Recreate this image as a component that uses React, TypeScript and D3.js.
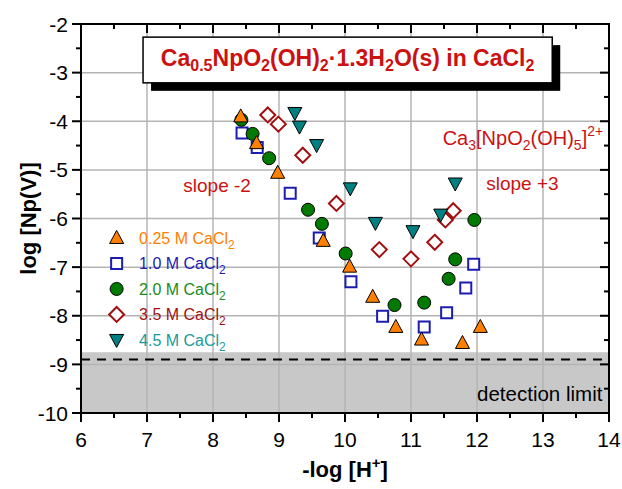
import React from 'react';
import * as d3 from 'd3';

// -log[H+] vs log[Np(V)]
const c025 = [[8.42, -3.9], [8.66, -4.45], [8.98, -5.06], [9.67, -6.46], [10.07, -6.99], [10.42, -7.61], [10.77, -8.23], [11.16, -8.49], [11.78, -8.56], [12.05, -8.23]];
const c10 = [[8.44, -4.24], [8.67, -4.54], [9.17, -5.48], [9.61, -6.4], [10.09, -7.3], [10.57, -8.01], [11.2, -8.23], [11.54, -7.94], [11.83, -7.43], [11.95, -6.94]];
const c20 = [[8.43, -3.97], [8.6, -4.26], [8.85, -4.76], [9.44, -5.82], [9.65, -6.11], [10.01, -6.72], [10.75, -7.78], [11.2, -7.73], [11.57, -7.24], [11.67, -6.84], [11.96, -6.03]];
const c35 = [[8.83, -3.87], [8.99, -4.06], [9.36, -4.7], [9.87, -5.69], [10.52, -6.64], [11.0, -6.83], [11.36, -6.49], [11.52, -6.03], [11.64, -5.84]];
const c45 = [[9.24, -3.83], [9.31, -4.11], [9.57, -4.49], [10.08, -5.38], [10.46, -6.09], [11.03, -6.26], [11.45, -5.92], [11.67, -5.28]];

const xTicks = [6, 7, 8, 9, 10, 11, 12, 13, 14];
const yTicks = [-2, -3, -4, -5, -6, -7, -8, -9, -10];
const detectionTop = -8.75;
const detectionLine = -8.9;

const FONT = 'Arial, "Liberation Sans", Helvetica, sans-serif';

const shapes: Record<string, string> = {
  triUp: 'M0,-7.5L7,5.5L-7,5.5Z',
  triDown: 'M-7,-5.5L7,-5.5L0,7.5Z',
  square: 'M-5.5,-5.5H5.5V5.5H-5.5Z',
  diamond: 'M0,-7.5L7.5,0L0,7.5L-7.5,0Z',
  circle: d3.arc()({ innerRadius: 0, outerRadius: 6.5, startAngle: 0, endAngle: Math.PI * 2 }) as string,
};

const series = [
  { label: '0.25 M CaCl', data: c025, shape: 'triUp', fill: '#ff8000', stroke: '#000', sw: 1, text: '#ff8000' },
  { label: '1.0 M CaCl', data: c10, shape: 'square', fill: '#fff', stroke: '#1c1cb0', sw: 2, text: '#1c1cb0' },
  { label: '2.0 M CaCl', data: c20, shape: 'circle', fill: '#007a00', stroke: '#000', sw: 1, text: '#1a8c1a' },
  { label: '3.5 M CaCl', data: c35, shape: 'diamond', fill: '#fff', stroke: '#a01010', sw: 2, text: '#a01010' },
  { label: '4.5 M CaCl', data: c45, shape: 'triDown', fill: '#008080', stroke: '#000', sw: 1, text: '#1a9a9a' },
];
const drawOrder = [3, 4, 1, 2, 0];

export default function App() {
  const W = 622, H = 489;
  const x = d3.scaleLinear().domain([6, 14]).range([81, 609]);
  const y = d3.scaleLinear().domain([-2, -10]).range([24, 413]);
  const minorX = d3.range(6.5, 14, 1);
  const minorY = d3.range(-2.5, -10, -1);
  const red = '#cc1111';

  return (
    <svg width={W} height={H} style={{ position: 'absolute', left: 0, top: 0, background: '#fff' }} fontFamily={FONT}>
      <rect x={0} y={0} width={W} height={H} fill="#fff" />
      {/* detection region */}
      <rect x={x(6)} y={y(detectionTop)} width={x(14) - x(6)} height={y(-10) - y(detectionTop)} fill="#c8c8c8" />
      {/* grid */}
      {xTicks.slice(1, -1).map(t => (
        <line key={'gx' + t} x1={x(t)} x2={x(t)} y1={y(-2)} y2={y(-10)} stroke="#b4b4b4" strokeWidth={1.5} />
      ))}
      {yTicks.slice(1, -1).map(t => (
        <line key={'gy' + t} x1={x(6)} x2={x(14)} y1={y(t)} y2={y(t)} stroke="#b4b4b4" strokeWidth={1.5} />
      ))}
      <line x1={x(6)} x2={x(14)} y1={y(detectionLine)} y2={y(detectionLine)} stroke="#000" strokeWidth={2} strokeDasharray="9,7" />

      {/* title box */}
      <rect x={x(6.94) + 8} y={y(-2.27) + 8} width={x(13.14) - x(6.94)} height={y(-3.21) - y(-2.27)} fill="#000" />
      <rect x={x(6.94)} y={y(-2.27)} width={x(13.14) - x(6.94)} height={y(-3.21) - y(-2.27)} fill="#fff" stroke="#000" strokeWidth={1.5} />
      <text x={(x(6.94) + x(13.14)) / 2} y={y(-2.86)} textAnchor="middle" fontSize={23} fontWeight="bold" fill={red}>
        Ca<tspan fontSize={16} dy={5}>0.5</tspan>
        <tspan dy={-5}>NpO</tspan><tspan fontSize={16} dy={5}>2</tspan>
        <tspan dy={-5}>(OH)</tspan><tspan fontSize={16} dy={5}>2</tspan>
        <tspan dy={-5}>·1.3H</tspan><tspan fontSize={16} dy={5}>2</tspan>
        <tspan dy={-5}>O(s) in CaCl</tspan><tspan fontSize={16} dy={5}>2</tspan>
      </text>

      {/* annotations */}
      <text x={x(7.55)} y={y(-5.46)} fontSize={19} fill={red}>slope -2</text>
      <text x={x(12.14)} y={y(-5.42)} fontSize={19} fill={red}>slope +3</text>
      <text x={x(11.48)} y={y(-4.49)} fontSize={20} fill={red}>
        Ca<tspan fontSize={14} dy={5}>3</tspan>
        <tspan dy={-5}>[NpO</tspan><tspan fontSize={14} dy={5}>2</tspan>
        <tspan dy={-5}>(OH)</tspan><tspan fontSize={14} dy={5}>5</tspan>
        <tspan dy={-5}>]</tspan><tspan fontSize={14} dy={-9}>2+</tspan>
      </text>
      <text x={x(13.9)} y={y(-9.76)} textAnchor="end" fontSize={20.5} fill="#000">detection limit</text>

      {/* data */}
      {drawOrder.map(i => {
        const s = series[i];
        return (
          <g key={s.label}>
            {s.data.map((d, j) => (
              <path key={j} d={shapes[s.shape]} transform={`translate(${x(d[0])},${y(d[1])})`}
                fill={s.fill} stroke={s.stroke} strokeWidth={s.sw} />
            ))}
          </g>
        );
      })}

      {/* legend */}
      {series.map((s, i) => {
        const ly = y(-6.4) + i * 25.5;
        return (
          <g key={'lg' + i}>
            <path d={shapes[s.shape]} transform={`translate(${x(6.54)},${ly})`} fill={s.fill} stroke={s.stroke} strokeWidth={s.sw} />
            <text x={x(6.88)} y={ly + 6} fontSize={16} fill={s.text}>
              {s.label}<tspan fontSize={12} dy={5}>2</tspan>
            </text>
          </g>
        );
      })}

      {/* frame */}
      <rect x={x(6)} y={y(-2)} width={x(14) - x(6)} height={y(-10) - y(-2)} fill="none" stroke="#000" strokeWidth={2} />
      {/* bottom / top ticks */}
      {xTicks.map(t => (
        <g key={'tx' + t}>
          <line x1={x(t)} x2={x(t)} y1={y(-10)} y2={y(-10) + 9} stroke="#000" strokeWidth={2} />
          <line x1={x(t)} x2={x(t)} y1={y(-2)} y2={y(-2) + 9} stroke="#000" strokeWidth={2} />
          <text x={x(t)} y={y(-10) + 34} textAnchor="middle" fontSize={21} fill="#000">{t}</text>
        </g>
      ))}
      {minorX.map(t => (
        <g key={'mx' + t}>
          <line x1={x(t)} x2={x(t)} y1={y(-10)} y2={y(-10) + 5} stroke="#000" strokeWidth={2} />
          <line x1={x(t)} x2={x(t)} y1={y(-2)} y2={y(-2) + 5} stroke="#000" strokeWidth={2} />
        </g>
      ))}
      {/* left / right ticks */}
      {yTicks.map(t => (
        <g key={'ty' + t}>
          <line x1={x(6) - 9} x2={x(6)} y1={y(t)} y2={y(t)} stroke="#000" strokeWidth={2} />
          <line x1={x(14) - 9} x2={x(14)} y1={y(t)} y2={y(t)} stroke="#000" strokeWidth={2} />
          <text x={x(6) - 13} y={y(t) + 7.5} textAnchor="end" fontSize={21} fill="#000">{t}</text>
        </g>
      ))}
      {minorY.map(t => (
        <g key={'my' + t}>
          <line x1={x(6) - 5} x2={x(6)} y1={y(t)} y2={y(t)} stroke="#000" strokeWidth={2} />
          <line x1={x(14) - 5} x2={x(14)} y1={y(t)} y2={y(t)} stroke="#000" strokeWidth={2} />
        </g>
      ))}

      {/* axis titles */}
      <text x={(x(6) + x(14)) / 2} y={477} textAnchor="middle" fontSize={22} fontWeight="bold" fill="#000">
        -log [H<tspan fontSize={15} dy={-9}>+</tspan><tspan dy={9}>]</tspan>
      </text>
      <text transform={`translate(36,${(y(-2) + y(-10)) / 2}) rotate(-90)`} textAnchor="middle" fontSize={22} fontWeight="bold" fill="#000">
        log [Np(V)]
      </text>
    </svg>
  );
}
